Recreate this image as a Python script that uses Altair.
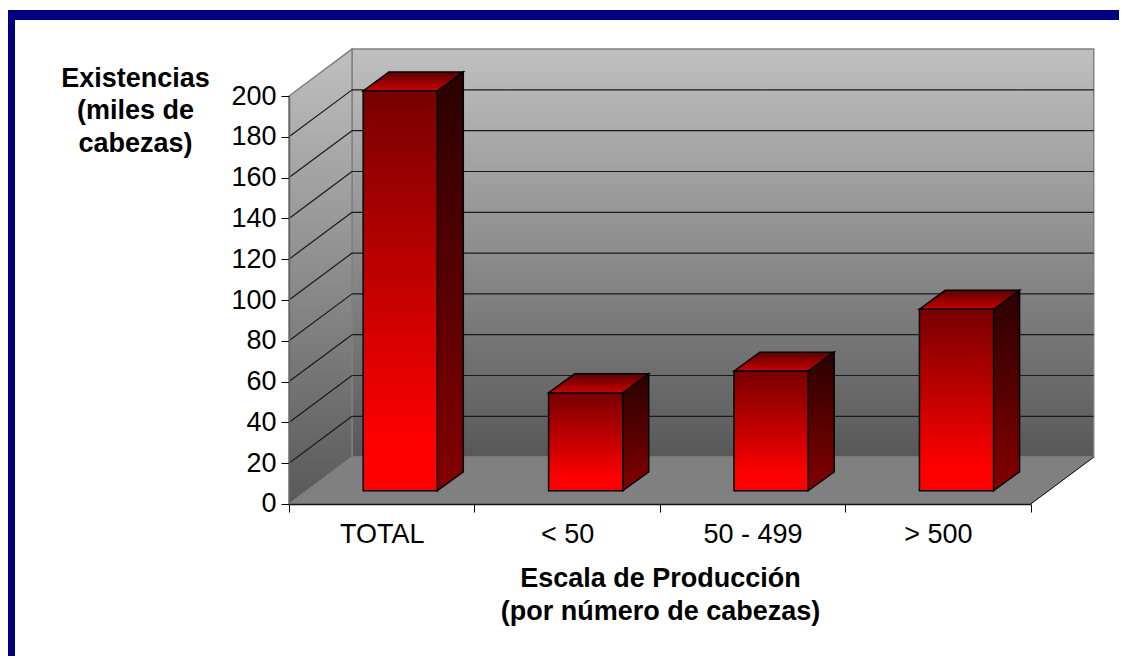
import altair as alt
import pandas as pd

categories = ["TOTAL", "< 50", "50 - 499", "> 500"]
values = [196, 48, 58.6, 89]
y_ticks = [0, 20, 40, 60, 80, 100, 120, 140, 160, 180, 200]
grid_values = [20, 40, 60, 80, 100, 120, 140, 160, 180]
y_title = ["Existencias", "(miles de", "cabezas)"]
x_title = ["Escala de Producción", "(por número de cabezas)"]

# 3-D projection, in data units
WALL_DX, WALL_DY = 0.34, 23.0
BAR_DX, BAR_DY = 0.14, 9.3
BAR_LEFT, BAR_W, BAR_BASE = 0.40, 0.40, 6.5
N = len(categories)
YMAX = 200
FONT = "Liberation Sans"

sx = alt.Scale(domain=[0, N], range=[0, 741.7], nice=False, zero=False)
sy = alt.Scale(domain=[0, YMAX], range=[408, 0], nice=False, zero=False)


def X(f="x"):
    return alt.X(f"{f}:Q", scale=sx)


def Y(f="y"):
    return alt.Y(f"{f}:Q", scale=sy)


def grad(c0, c1, mid=None):
    stops = [alt.GradientStop(offset=0, color=c0)]
    if mid is not None:
        stops.append(alt.GradientStop(offset=0.88, color=c1))
    stops.append(alt.GradientStop(offset=1, color=c1))
    return alt.Gradient(gradient="linear", x1=0, x2=0, y1=0, y2=1, stops=stops)


def vface(rows, fill, stroke, sw=1.0):
    """Parallelogram with vertical ends."""
    return alt.Chart(pd.DataFrame(rows)).mark_area(
        orient="vertical", color=fill, stroke=stroke, strokeWidth=sw, opacity=1
    ).encode(x=X(), y=Y("y"), y2=alt.Y2("y2"))


def hface(rows, fill, stroke, sw=1.0):
    """Parallelogram with horizontal ends."""
    return alt.Chart(pd.DataFrame(rows)).mark_area(
        orient="horizontal", color=fill, stroke=stroke, strokeWidth=sw, opacity=1
    ).encode(y=Y(), x=X("x"), x2=alt.X2("x2"))


axis_x = alt.Axis(
    values=[i / 2 for i in range(2 * N + 1)],
    labelExpr="datum.value % 1 ? " + str(categories) + "[floor(datum.value)] : ''",
    tickOpacity={"condition": {"test": "datum.value % 1 != 0", "value": 0}, "value": 1},
    tickSize=8, tickColor="#000000", domainColor="#111111", domainWidth=1.5,
    labelFont=FONT, labelFontSize=27, labelColor="#000000", labelPadding=10,
    labelOverlap=False, labelFlush=False, grid=False, zindex=1,
    title=x_title, titleFont=FONT, titleFontSize=27, titleFontWeight="bold",
    titleColor="#000000", titleLineHeight=33, titleAngle=0, titleAlign="center",
    titleBaseline="alphabetic", titleX=371, titleY=83,
)
axis_y = alt.Axis(
    values=y_ticks, format="d",
    tickSize=8, tickColor="#000000", domainColor="#666666", domainWidth=1.5,
    labelFont=FONT, labelFontSize=27, labelColor="#000000", labelPadding=5,
    labelOverlap=False, labelFlush=False, grid=False, zindex=1,
    title=y_title, titleFont=FONT, titleFontSize=27, titleFontWeight="bold",
    titleColor="#000000", titleLineHeight=33, titleAngle=0, titleAlign="center",
    titleBaseline="alphabetic", titleX=-154, titleY=-10,
)

wall_grad = grad("#c0c0c0", "#585858")

back = alt.Chart(pd.DataFrame([
    {"x": WALL_DX, "y": WALL_DY, "y2": YMAX + WALL_DY},
    {"x": N + WALL_DX, "y": WALL_DY, "y2": YMAX + WALL_DY},
])).mark_area(orient="vertical", color=wall_grad, stroke="#808080", strokeWidth=1.5, opacity=1).encode(
    x=alt.X("x:Q", scale=sx, axis=axis_x),
    y=alt.Y("y:Q", scale=sy, axis=axis_y),
    y2=alt.Y2("y2"),
)

left = vface([
    {"x": 0, "y": 0, "y2": YMAX},
    {"x": WALL_DX, "y": WALL_DY, "y2": YMAX + WALL_DY},
], wall_grad, "#808080", 1.5)

floor = hface([
    {"y": 0, "x": 0, "x2": N},
    {"y": WALL_DY, "x": WALL_DX, "x2": N + WALL_DX},
], "#808080", "#808080", 1)

edge_rows = [{"x": N, "y": 0, "x2": N + WALL_DX, "y2": WALL_DY}]
edge = alt.Chart(pd.DataFrame(edge_rows)).mark_rule(color="#111111", strokeWidth=1).encode(
    x=X(), y=Y(), x2="x2", y2="y2"
)

grid_rows = []
for v in grid_values:
    grid_rows.append({"x": 0, "y": v, "x2": WALL_DX, "y2": v + WALL_DY})
    grid_rows.append({"x": WALL_DX, "y": v + WALL_DY, "x2": N + WALL_DX, "y2": v + WALL_DY})
grid_layer = alt.Chart(pd.DataFrame(grid_rows)).mark_rule(color="#1a1a1a", strokeWidth=1.2).encode(
    x=X(), y=Y(), x2="x2", y2="y2"
)

layers = [back, left, floor, grid_layer, edge]

for i, val in enumerate(values):
    a = i + BAR_LEFT
    b = a + BAR_W
    y0 = BAR_BASE
    y1 = BAR_BASE + val
    layers.append(vface([
        {"x": b, "y": y0, "y2": y1},
        {"x": b + BAR_DX, "y": y0 + BAR_DY, "y2": y1 + BAR_DY},
    ], grad("#2a0000", "#850000"), "#000000", 1.5))
    layers.append(hface([
        {"y": y1, "x": a, "x2": b},
        {"y": y1 + BAR_DY, "x": a + BAR_DX, "x2": b + BAR_DX},
    ], grad("#5a0000", "#cc0000"), "#000000", 1.5))
    layers.append(vface([
        {"x": a, "y": y0, "y2": y1},
        {"x": b, "y": y0, "y2": y1},
    ], grad("#780000", "#ff0000", mid=True), "#000000", 1.5))

# navy page frame (view origin sits at 289, 96 on the page)
frame_top = alt.Chart(pd.DataFrame({"a": [0]})).mark_rect(color="#000080").encode(
    x=alt.value(-281), x2=alt.value(838), y=alt.value(-86), y2=alt.value(-76)
)
frame_left = alt.Chart(pd.DataFrame({"a": [0]})).mark_rect(color="#000080").encode(
    x=alt.value(-281), x2=alt.value(-274), y=alt.value(-86), y2=alt.value(568)
)
layers += [frame_top, frame_left]

chart = alt.layer(*layers).properties(
    width=741.7, height=408,
    padding={"left": 281, "top": 88, "right": 88, "bottom": 152},
    autosize=alt.AutoSizeParams(type="none"),
    background="#ffffff",
).configure_view(stroke=None)

chart.save("out.html", embed_options={"renderer": "svg", "actions": False})
